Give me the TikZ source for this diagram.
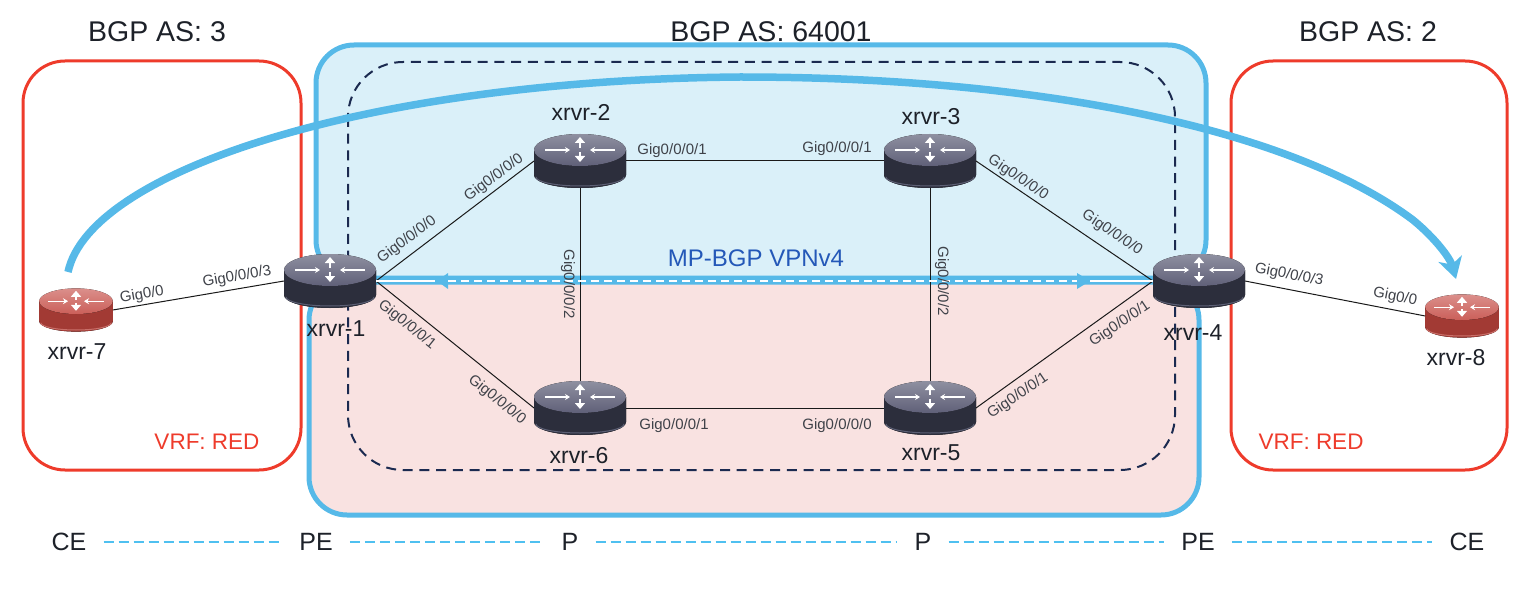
\documentclass[tikz,border=0pt]{standalone}
\usepackage{fontspec}
\setmainfont{Liberation Sans}
\usetikzlibrary{arrows.meta}

\definecolor{skyline}{HTML}{56B9E8}
\definecolor{skyfill}{HTML}{DAF0F9}
\definecolor{rosefill}{HTML}{F9E2E1}
\definecolor{vrfred}{HTML}{EE3B2B}
\definecolor{navydash}{HTML}{1B2A50}
\definecolor{vpnblue}{HTML}{2458B8}
\definecolor{legendblue}{HTML}{4FC0F0}
\definecolor{inktext}{HTML}{1D2129}
\definecolor{coretop}{HTML}{5F6078}
\definecolor{coreedge}{HTML}{2C2E3C}
\definecolor{coremid}{HTML}{666A96}
\definecolor{corerim}{HTML}{5D6075}
\definecolor{sitetop}{HTML}{CB5F59}
\definecolor{siteedge}{HTML}{A23A34}
\definecolor{sitemid}{HTML}{CC7A74}
\definecolor{siterim}{HTML}{C9706A}

\tikzset{
  routerbox/.style={inner sep=0pt, outer sep=0pt},
  portlabel/.style={font=\fontsize{15}{17}\selectfont, text=inktext!85!white, inner sep=0pt},
  namelabel/.style={font=\fontsize{23}{26}\selectfont, text=inktext, inner sep=0pt},
  aslabel/.style={font=\fontsize{28.5}{32}\selectfont, text=inktext, inner sep=0pt},
  vrflabel/.style={font=\fontsize{22.5}{26}\selectfont, text=vrfred, inner sep=0pt},
  legendlabel/.style={font=\fontsize{25}{28}\selectfont, text=inktext, inner xsep=17pt, inner ysep=0pt},
  legendline/.style={legendblue, line width=1.3pt, dash pattern=on 10pt off 5pt},
  link/.style={black!90, line width=1pt},
  asbox/.style={vrfred, line width=3pt, rounded corners=42pt},
  corebox/.style={skyline, line width=5pt, rounded corners=38pt}
}

% #1 name, #2 x, #3 y, #4 size, #5 colour prefix
\newcommand{\router}[5]{
  \begin{scope}[shift={(#2,#3)}, scale=#4]
    \fill[left color=#5edge, middle color=#5mid, right color=#5edge]
      (-46,-11) -- (-46,14) arc[start angle=180, end angle=0, x radius=46, y radius=13] -- (46,-11) -- cycle;
    \draw[#5rim, line width=1pt] (-44,16) arc[start angle=180, end angle=0, x radius=44, y radius=9];
    \fill[top color=#5top!70!white, bottom color=#5top] (0,-11) ellipse[x radius=46, y radius=16];
    \draw[white, line width=1.2pt, -{Stealth[length=5pt, width=6pt]}] (-35,-11) -- (-10,-11);
    \draw[white, line width=1.2pt, -{Stealth[length=5pt, width=6pt]}] (35,-11) -- (10,-11);
    \draw[white, line width=2.2pt, -{Stealth[length=6pt, width=10pt, inset=0pt]}] (0,-13) -- (0,-24);
    \draw[white, line width=2.2pt, -{Stealth[length=6pt, width=10pt, inset=0pt]}] (0,-9) -- (0,1);
  \end{scope}
  \node[routerbox, minimum width=#4*92pt, minimum height=#4*54pt] (#1) at (#2,#3) {};
}

\begin{document}
\begin{tikzpicture}[x=1pt, y=-1pt]
  \useasboundingbox (0,0) rectangle (1536,604);

  % core
  \draw[corebox, fill=skyfill] (316,45) rectangle (1206,278);
  \draw[corebox, fill=rosefill] (309,282) rectangle (1199,515);
  \draw[navydash, line width=2pt, dash pattern=on 10pt off 6.7pt, rounded corners=55pt] (348,62) rectangle (1175,470);

  % customer sites
  \draw[asbox] (23,61) rectangle (301,470);
  \draw[asbox] (1231,61) rectangle (1507,470);

  \router{xrvr1}{330}{281}{1}{core}
  \router{xrvr2}{580}{161}{1}{core}
  \router{xrvr3}{930}{161}{1}{core}
  \router{xrvr4}{1199}{281}{1}{core}
  \router{xrvr5}{930}{408}{1}{core}
  \router{xrvr6}{580}{408}{1}{core}
  \router{xrvr7}{76}{310}{.8}{site}
  \router{xrvr8}{1462}{316}{.8}{site}

  % links
  \draw[link] (xrvr1.east) -- (xrvr2.west);
  \draw[link] (xrvr1.east) -- (xrvr6.west);
  \draw[link] (xrvr2.east) -- (xrvr3.west);
  \draw[link] (xrvr2.south) -- (xrvr6.north);
  \draw[link] (xrvr3.south) -- (xrvr5.north);
  \draw[link] (xrvr6.east) -- (xrvr5.west);
  \draw[link] (xrvr3.east) -- (xrvr4.west);
  \draw[link] (xrvr5.east) -- (xrvr4.west);
  \draw[link] (xrvr7.east) -- (xrvr1.west);
  \draw[link] (xrvr4.east) -- (xrvr8.west);

  % vpnv4 session
  \coordinate (vpnleft) at (448,281);
  \coordinate (vpnright) at (1077,281);
  \fill[skyline] (vpnleft) ++(0,-8) -- ++(-11,8) -- ++(11,8) -- cycle;
  \fill[skyline] (vpnright) ++(0,-8) -- ++(13,8) -- ++(-13,8) -- cycle;
  \draw[white, line width=1.4pt] (xrvr1.east) -- (435,281);
  \draw[white, line width=1.4pt, dash pattern=on 8pt off 5pt] (vpnleft) -- (vpnright);
  \draw[white, line width=1.4pt] (1090,281) -- (xrvr4.west);

  % overlay
  \coordinate (arcstart) at (68,272);
  \coordinate (arctop) at (740,77);
  \coordinate (arcbend) at (1413,220);
  \coordinate (arctip) at (1456,279);
  \draw[skyline, line width=7.5pt, -{Stealth[length=21pt, width=24pt, inset=6pt]}]
    (arcstart) .. controls (90,170) and (370,80) .. (arctop)
    .. controls (1060,77) and (1300,135) .. (arcbend)
    .. controls (1435,238) and (1450,258) .. (arctip);

  % names
  \foreach \nm/\px/\py/\txt in {n1/336/329/xrvr-1, n2/581/112/xrvr-2, n3/931/117/xrvr-3, n4/1193/333/xrvr-4,
    n5/931/453/xrvr-5, n6/579/456/xrvr-6, n7/77/352/xrvr-7, n8/1456/358/xrvr-8}
    \node[namelabel] (\nm) at (\px,\py) {\txt};

  % ports
  \foreach \nm/\px/\py/\ang/\txt in {
    p71/142/295/10/{Gig0/0}, p17/237/277/10/{Gig0/0/0/3},
    p12/407/240/37/{Gig0/0/0/0}, p21/494/178/37/{Gig0/0/0/0},
    p16/407/325/-39/{Gig0/0/0/1}, p61/497/400/-39/{Gig0/0/0/0},
    p23/672/151/0/{Gig0/0/0/1}, p32/837/149/0/{Gig0/0/0/1},
    p26/568/284/-90/{Gig0/0/0/2}, p35/942/281/-90/{Gig0/0/0/2},
    p65/674/426/0/{Gig0/0/0/1}, p56/837/426/0/{Gig0/0/0/0},
    p34/1018/178/-34/{Gig0/0/0/0}, p43/1112/233/-34/{Gig0/0/0/0},
    p45/1120/324/34/{Gig0/0/0/1}, p54/1018/396/34/{Gig0/0/0/1},
    p48/1289/275/-11/{Gig0/0/0/3}, p84/1395/297/-11/{Gig0/0}}
    \node[portlabel, rotate=\ang] (\nm) at (\px,\py) {\txt};

  % titles
  \node[aslabel] (as3) at (157,32) {BGP AS: 3};
  \node[aslabel] (as64001) at (771,32) {BGP AS: 64001};
  \node[aslabel] (as2) at (1368,32) {BGP AS: 2};
  \node[vrflabel] (vrfleft) at (207,442) {VRF: RED};
  \node[vrflabel] (vrfright) at (1311,442) {VRF: RED};
  \node[font=\fontsize{24}{28}\selectfont, text=vpnblue, inner sep=0pt] (vpnv4) at (756,258) {MP-BGP VPNv4};

  % roles
  \node[legendlabel] (celeft) at (69,542) {CE};
  \node[legendlabel] (peleft) at (316,542) {PE};
  \node[legendlabel] (pleft) at (570,542) {P};
  \node[legendlabel] (pright) at (923,542) {P};
  \node[legendlabel] (peright) at (1198,542) {PE};
  \node[legendlabel] (ceright) at (1467,542) {CE};
  \draw[legendline] (celeft) -- (peleft);
  \draw[legendline] (peleft) -- (pleft);
  \draw[legendline] (pleft) -- (pright);
  \draw[legendline] (pright) -- (peright);
  \draw[legendline] (peright) -- (ceright);
\end{tikzpicture}
\end{document}
